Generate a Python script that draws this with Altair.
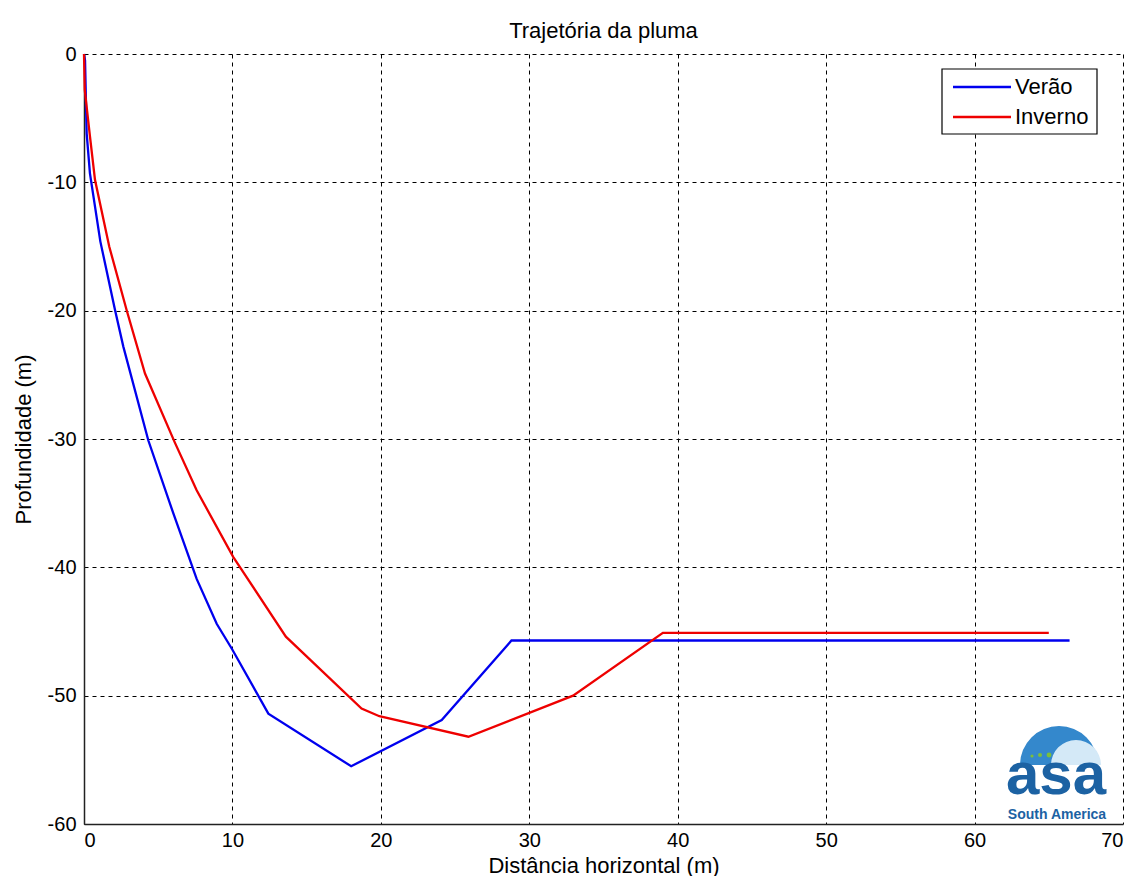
import altair as alt
import pandas as pd

# Verão (blue)
verao_x = [0, 0.07, 0.18, 0.4, 1.1, 2.09, 2.65, 4.33, 6.02, 7.59, 8.94, 9.99, 12.42, 18.0, 24.1, 28.8, 66.4]
verao_y = [0, -0.5, -6.2, -9.3, -14.6, -19.95, -22.8, -30.1, -35.8, -40.9, -44.4, -46.4, -51.4, -55.5, -51.9, -45.7, -45.7]

# Inverno (red)
inverno_x = [0, 0.05, 0.4, 0.74, 1.7, 2.87, 4.11, 6.13, 7.59, 10.06, 13.6, 18.7, 19.9, 25.9, 32.95, 39.0, 65.0]
inverno_y = [0, -2.8, -6.4, -9.8, -15.0, -19.95, -24.9, -30.3, -34.0, -39.2, -45.4, -51.0, -51.6, -53.2, -50.0, -45.1, -45.1]

series_names = ["Verão", "Inverno"]
series_colors = ["#0000ee", "#ee0000"]

x_ticks = [0, 10, 20, 30, 40, 50, 60, 70]
y_ticks = [-60, -50, -40, -30, -20, -10, 0]

rows = []
for i, (x, y) in enumerate(zip(verao_x, verao_y)):
    rows.append({"serie": "Verão", "x": x, "y": y, "ord": i})
for i, (x, y) in enumerate(zip(inverno_x, inverno_y)):
    rows.append({"serie": "Inverno", "x": x, "y": y, "ord": i})
df = pd.DataFrame(rows)

FONT = "Liberation Sans"
color_scale = alt.Scale(domain=series_names, range=series_colors)

lines = alt.Chart(df).mark_line(strokeWidth=2.3).encode(
    x=alt.X("x:Q", scale=alt.Scale(domain=[0, 70], nice=False),
            axis=alt.Axis(values=x_ticks, title="Distância horizontal (m)",
                          titlePadding=5, labelPadding=6)),
    y=alt.Y("y:Q", scale=alt.Scale(domain=[-60, 0], nice=False),
            axis=alt.Axis(values=y_ticks, title="Profundidade (m)",
                          labelExpr="'' + datum.value",
                          titlePadding=12, labelPadding=8)),
    color=alt.Color("serie:N", scale=color_scale, legend=None),
    order="ord:Q",
)

# custom legend (box, line samples, labels)
legend_df = pd.DataFrame({"serie": series_names, "row": list(range(len(series_names)))})
legend_box = alt.Chart(pd.DataFrame({"a": [0]})).mark_rect(
    fill="white", stroke="black", strokeWidth=1.2).encode(
    x=alt.value(858), x2=alt.value(1013), y=alt.value(15), y2=alt.value(80))
legend_base = alt.Chart(legend_df).transform_calculate(ly="33 + 30 * datum.row")
legend_lines = legend_base.mark_rule(strokeWidth=2.5).encode(
    x=alt.value(869), x2=alt.value(927), y=alt.Y("ly:Q", scale=None),
    color=alt.Color("serie:N", scale=color_scale, legend=None))
legend_text = legend_base.mark_text(align="left", baseline="middle", fontSize=22,
                                    font=FONT, color="black").encode(
    x=alt.value(931), y=alt.Y("ly:Q", scale=None), text="serie:N")

# logo
logo_df = pd.DataFrame({"a": [0]})
dome = alt.Chart(logo_df).mark_arc(theta=4.712, theta2=7.854, radius=39, radius2=0,
                                   color="#3488cc").encode(x=alt.value(975), y=alt.value(711))
wave = alt.Chart(logo_df).mark_arc(theta=4.712, theta2=7.854, radius=25, radius2=0,
                                   color="#d4e9f7").encode(x=alt.value(992), y=alt.value(711))
dots = alt.Chart(pd.DataFrame({"px": [948, 956, 965], "py": [702, 701, 701], "s": [10, 16, 24]})).mark_circle(
    color="#7cbf3a", opacity=1).encode(
    x=alt.X("px:Q", scale=None), y=alt.Y("py:Q", scale=None), size=alt.Size("s:Q", scale=None, legend=None))
asa = alt.Chart(logo_df).mark_text(text="asa", fontSize=60, fontWeight="bold", font=FONT,
                                   color="#1c62a3", baseline="bottom").encode(
    x=alt.value(972), y=alt.value(753))
sa = alt.Chart(logo_df).mark_text(text="South America", fontSize=14, fontWeight="bold",
                                  font=FONT, color="#1c62a3", baseline="top").encode(
    x=alt.value(973), y=alt.value(754))

chart = alt.layer(lines, legend_box, legend_lines, legend_text,
                  dome, wave, dots, asa, sa).properties(
    width=1039, height=770,
    title=alt.TitleParams("Trajetória da pluma", fontSize=22, font=FONT,
                          fontWeight="normal", color="black", offset=1),
    autosize="none",
    padding={"left": 76, "top": 46, "right": 5, "bottom": 52},
).configure_axis(
    grid=True, gridColor="black", gridDash=[4, 4], gridOpacity=1, gridWidth=1,
    domainColor="#222222", domainWidth=1.5, ticks=False,
    labelFont=FONT, labelFontSize=20, labelColor="black",
    titleFont=FONT, titleFontSize=22, titleFontWeight="normal", titleColor="black",
).configure_view(stroke=None)

chart.save("out.html", embed_options={"renderer": "svg", "actions": False})
